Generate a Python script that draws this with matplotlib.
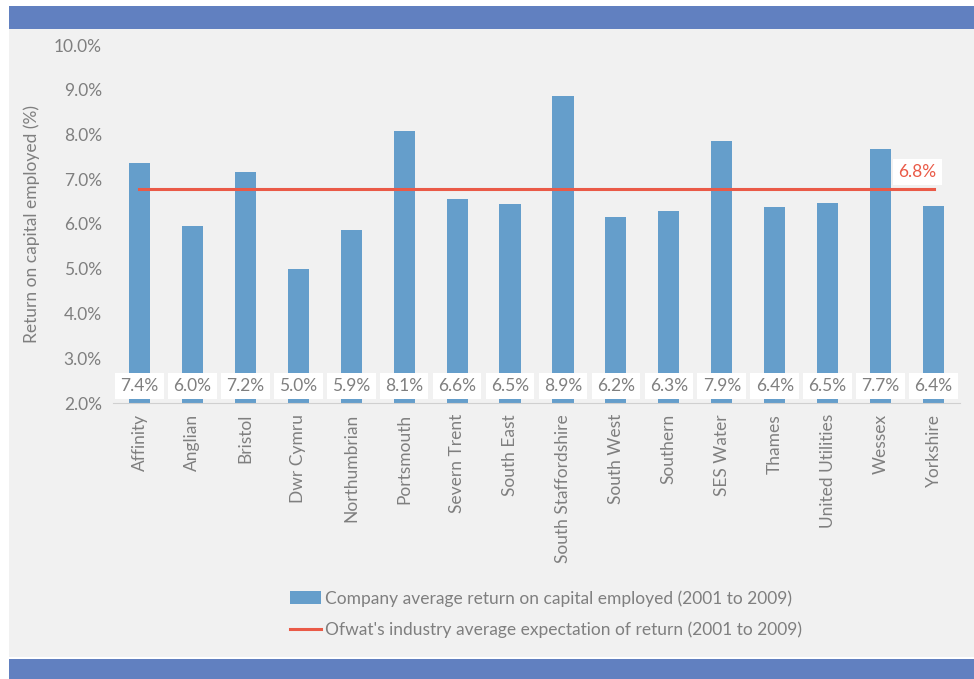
import matplotlib.pyplot as plt
from matplotlib.patches import Rectangle
from matplotlib.lines import Line2D

plt.rcParams['font.family'] = ['Lato', 'DejaVu Sans']

# data
companies = ['Affinity', 'Anglian', 'Bristol', 'Dwr Cymru', 'Northumbrian', 'Portsmouth',
             'Severn Trent', 'South East', 'South Staffordshire', 'South West', 'Southern',
             'SES Water', 'Thames', 'United Utilities', 'Wessex', 'Yorkshire']
returns = [7.36, 5.96, 7.16, 4.99, 5.87, 8.08, 6.56, 6.45, 8.86, 6.15, 6.29, 7.86, 6.38, 6.47, 7.68, 6.40]
ofwat_avg = 6.78
yticks = [2, 3, 4, 5, 6, 7, 8, 9, 10]

bar_col = '#659ecb'
line_col = '#ea5a47'
band_col = '#6180c0'
txt_col = '#7f7f7f'
fs = 12.5

fig = plt.figure(figsize=(9.74, 6.79), dpi=100)
fig.patch.set_facecolor('white')
# background panel and blue bands
fig.add_artist(Rectangle((9/974, 22/679), 965/974, 628/679, transform=fig.transFigure,
                         facecolor='#f1f1f1', edgecolor='none', zorder=0))
fig.add_artist(Rectangle((9/974, 1 - 29/679), 965/974, 23/679, transform=fig.transFigure,
                         facecolor=band_col, edgecolor='none', zorder=0))
fig.add_artist(Rectangle((9/974, 0), 965/974, 20/679, transform=fig.transFigure,
                         facecolor=band_col, edgecolor='none', zorder=0))

ax = fig.add_axes([113/974, 1 - 403/679, 847/974, 358/679])
ax.set_facecolor('none')
x = list(range(len(companies)))
ax.bar(x, [r - 2 for r in returns], bottom=2, width=0.4, color=bar_col, zorder=2)
ax.plot([0, len(companies) - 1], [ofwat_avg, ofwat_avg], color=line_col, lw=2.2, zorder=3)

for xi, r in zip(x, returns):
    ax.text(xi, 2.38, f'{r:.1f}%', ha='center', va='center', fontsize=fs, color=txt_col,
            bbox=dict(boxstyle='square,pad=0.3', fc='white', ec='none'), zorder=4)
ax.text(15 - 0.3, ofwat_avg + 0.38, f'{ofwat_avg:.1f}%', ha='center', va='center', fontsize=fs,
        color=line_col, bbox=dict(boxstyle='square,pad=0.3', fc='white', ec='none'), zorder=4)

ax.set_xlim(-0.5, len(companies) - 0.5)
ax.set_ylim(2, 10)
ax.set_yticks(yticks)
ax.set_yticklabels([f'{t:.1f}%' for t in yticks], fontsize=fs, color=txt_col)
ax.set_xticks(x)
ax.set_xticklabels(companies, rotation=90, fontsize=fs, color=txt_col)
ax.tick_params(length=0, pad=8)
for s in ['top', 'right', 'left']:
    ax.spines[s].set_visible(False)
ax.spines['bottom'].set_color('#d0d0d0')
ax.set_ylabel('Return on capital employed (%)', fontsize=fs, color=txt_col, labelpad=10)

handles = [Rectangle((0, 0), 1, 1, fc=bar_col, ec='none'),
           Line2D([0], [0], color=line_col, lw=2.2)]
labels = ['Company average return on capital employed (2001 to 2009)',
          "Ofwat's industry average expectation of return (2001 to 2009)"]
fig.legend(handles, labels, loc='center', bbox_to_anchor=(546/974, 1 - 614/679), frameon=False,
           fontsize=fs, labelcolor=txt_col, handlelength=1.8, handletextpad=0.2,
           labelspacing=0.85, handleheight=0.7)

fig.savefig('out.png', dpi=100)
